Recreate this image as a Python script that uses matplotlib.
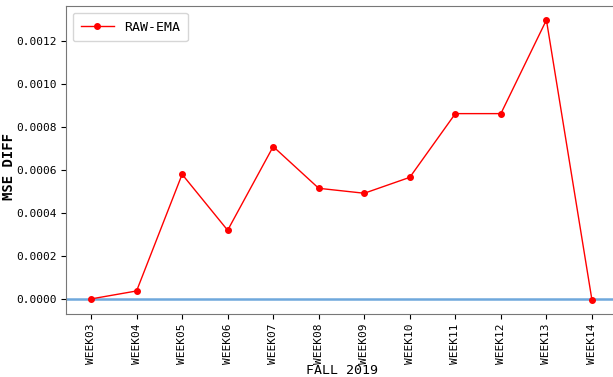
import matplotlib
matplotlib.use('Agg')
import matplotlib.pyplot as plt

weeks = ['WEEK03', 'WEEK04', 'WEEK05', 'WEEK06', 'WEEK07', 'WEEK08',
         'WEEK09', 'WEEK10', 'WEEK11', 'WEEK12', 'WEEK13', 'WEEK14']
raw_ema = [0.0, 0.000037, 0.000579, 0.000319, 0.000708, 0.000514,
           0.000491, 0.000565, 0.000861, 0.000861, 0.001296, -0.000005]

plt.rcParams['font.family'] = ['DejaVu Sans Mono']

fig = plt.figure(figsize=(6.13, 3.77), dpi=100)
ax = fig.add_axes([66 / 613, 1 - 314 / 377, 551 / 613, 308 / 377])

ax.plot(weeks, raw_ema, color='red', marker='o', markersize=4, lw=1, label='RAW-EMA')
ax.axhline(0, color='#6fa8dc', lw=1.8, zorder=1)

ax.set_yticks([0, 0.0002, 0.0004, 0.0006, 0.0008, 0.0010, 0.0012])
ax.set_yticklabels(['0.0000', '0.0002', '0.0004', '0.0006', '0.0008', '0.0010', '0.0012'])
ax.tick_params(axis='y', labelsize=8)
ax.tick_params(axis='x', labelsize=8, rotation=90)
for s in ax.spines.values():
    s.set_color('#777777')

ax.set_xlabel('FALL 2019', fontsize=9.5, labelpad=0)
ax.set_ylabel('MSE DIFF', fontsize=10, fontweight='bold')
ax.yaxis.set_label_coords(-0.09, 0.48)
ax.legend(loc='upper left', fontsize=9.5, handlelength=2.5, borderpad=0.6)

fig.savefig('out.png', dpi=100)
